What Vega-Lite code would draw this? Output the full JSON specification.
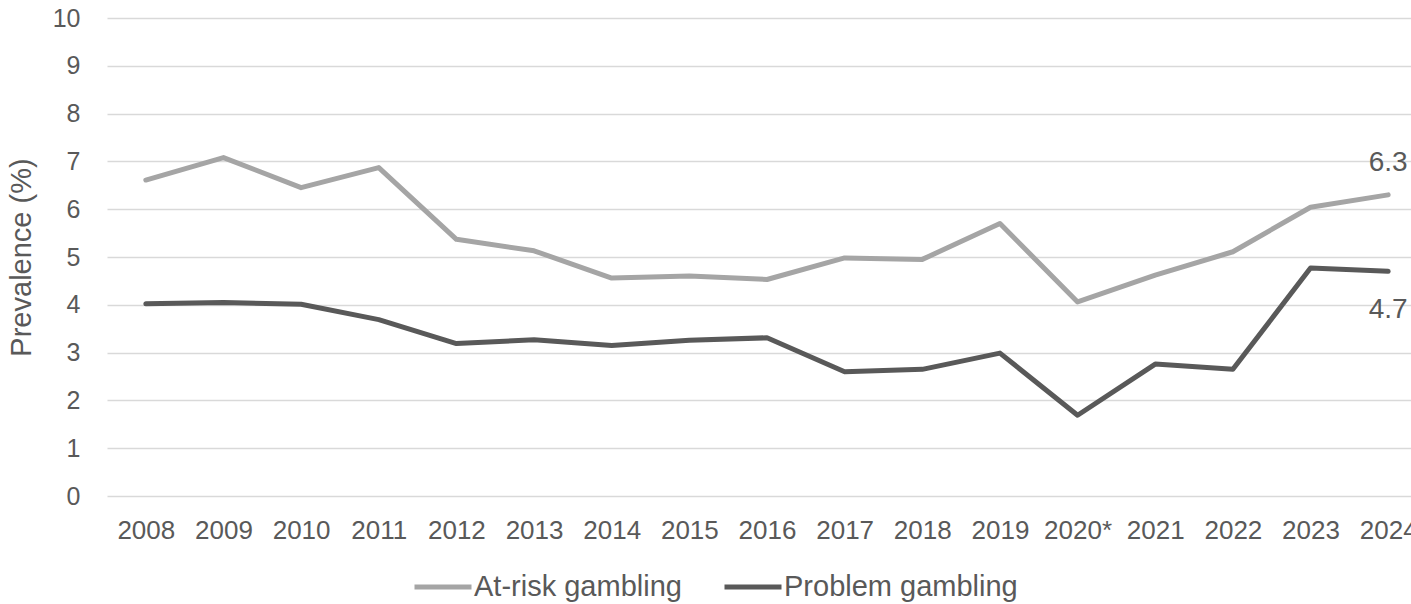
{
  "$schema": "https://vega.github.io/schema/vega-lite/v6.json",
  "autosize": "none",
  "padding": {"left": 107, "top": 18, "right": 0, "bottom": 108},
  "width": 1320,
  "height": 478,
  "background": "white",
  "config": {
    "font": "Liberation Sans",
    "view": {"stroke": null}
  },
  "data": {
    "values": [
      {"year": "2008", "series": "At-risk gambling", "value": 6.61},
      {"year": "2009", "series": "At-risk gambling", "value": 7.08},
      {"year": "2010", "series": "At-risk gambling", "value": 6.45},
      {"year": "2011", "series": "At-risk gambling", "value": 6.87},
      {"year": "2012", "series": "At-risk gambling", "value": 5.37},
      {"year": "2013", "series": "At-risk gambling", "value": 5.13},
      {"year": "2014", "series": "At-risk gambling", "value": 4.56},
      {"year": "2015", "series": "At-risk gambling", "value": 4.6},
      {"year": "2016", "series": "At-risk gambling", "value": 4.53},
      {"year": "2017", "series": "At-risk gambling", "value": 4.98},
      {"year": "2018", "series": "At-risk gambling", "value": 4.95},
      {"year": "2019", "series": "At-risk gambling", "value": 5.7},
      {"year": "2020*", "series": "At-risk gambling", "value": 4.06},
      {"year": "2021", "series": "At-risk gambling", "value": 4.62},
      {"year": "2022", "series": "At-risk gambling", "value": 5.11},
      {"year": "2023", "series": "At-risk gambling", "value": 6.04},
      {"year": "2024", "series": "At-risk gambling", "value": 6.3},
      {"year": "2008", "series": "Problem gambling", "value": 4.02},
      {"year": "2009", "series": "Problem gambling", "value": 4.05},
      {"year": "2010", "series": "Problem gambling", "value": 4.01},
      {"year": "2011", "series": "Problem gambling", "value": 3.69},
      {"year": "2012", "series": "Problem gambling", "value": 3.19},
      {"year": "2013", "series": "Problem gambling", "value": 3.27},
      {"year": "2014", "series": "Problem gambling", "value": 3.15},
      {"year": "2015", "series": "Problem gambling", "value": 3.26},
      {"year": "2016", "series": "Problem gambling", "value": 3.31},
      {"year": "2017", "series": "Problem gambling", "value": 2.6},
      {"year": "2018", "series": "Problem gambling", "value": 2.65},
      {"year": "2019", "series": "Problem gambling", "value": 2.99},
      {"year": "2020*", "series": "Problem gambling", "value": 1.69},
      {"year": "2021", "series": "Problem gambling", "value": 2.76},
      {"year": "2022", "series": "Problem gambling", "value": 2.65},
      {"year": "2023", "series": "Problem gambling", "value": 4.77},
      {"year": "2024", "series": "Problem gambling", "value": 4.7}
    ]
  },
  "encoding": {
    "x": {
      "field": "year",
      "type": "ordinal",
      "sort": null,
      "scale": {"type": "point", "padding": 0.5},
      "axis": {
        "title": null,
        "labelAngle": 0,
        "labelFontSize": 26,
        "labelColor": "#595959",
        "labelPadding": 21,
        "ticks": false,
        "domain": false,
        "grid": false
      }
    },
    "y": {
      "field": "value",
      "type": "quantitative",
      "scale": {"domain": [0, 10], "nice": false},
      "axis": {
        "title": "Prevalence (%)",
        "titleFontSize": 29,
        "titleFontWeight": "normal",
        "titleColor": "#595959",
        "titlePadding": 16,
        "values": [0, 1, 2, 3, 4, 5, 6, 7, 8, 9, 10],
        "labelFontSize": 25,
        "labelColor": "#595959",
        "labelPadding": 27,
        "ticks": false,
        "domain": false,
        "gridColor": "#D9D9D9",
        "gridWidth": 1.5
      }
    }
  },
  "layer": [
    {
      "mark": {"type": "line", "strokeWidth": 5, "strokeCap": "round", "strokeJoin": "round"},
      "encoding": {
        "color": {
          "field": "series",
          "type": "nominal",
          "scale": {"domain": ["At-risk gambling", "Problem gambling"], "range": ["#A5A5A5", "#595959"]},
          "legend": {
            "title": null,
            "orient": "none",
            "direction": "horizontal",
            "legendX": 305,
            "legendY": 538,
            "symbolType": "stroke",
            "symbolSize": 3249,
            "symbolStrokeWidth": 5,
            "labelFontSize": 29,
            "labelColor": "#595959",
            "labelOffset": 0,
            "columnPadding": 32,
            "labelLimit": 400
          }
        }
      }
    },
    {
      "transform": [{"filter": "datum.year == '2024' && datum.series == 'At-risk gambling'"}],
      "mark": {"type": "text", "fontSize": 28, "color": "#595959", "baseline": "alphabetic", "align": "center", "dy": -24},
      "encoding": {"text": {"field": "value", "type": "quantitative", "format": ".1f"}}
    },
    {
      "transform": [{"filter": "datum.year == '2024' && datum.series == 'Problem gambling'"}],
      "mark": {"type": "text", "fontSize": 28, "color": "#595959", "baseline": "alphabetic", "align": "center", "dy": 47},
      "encoding": {"text": {"field": "value", "type": "quantitative", "format": ".1f"}}
    }
  ]
}
